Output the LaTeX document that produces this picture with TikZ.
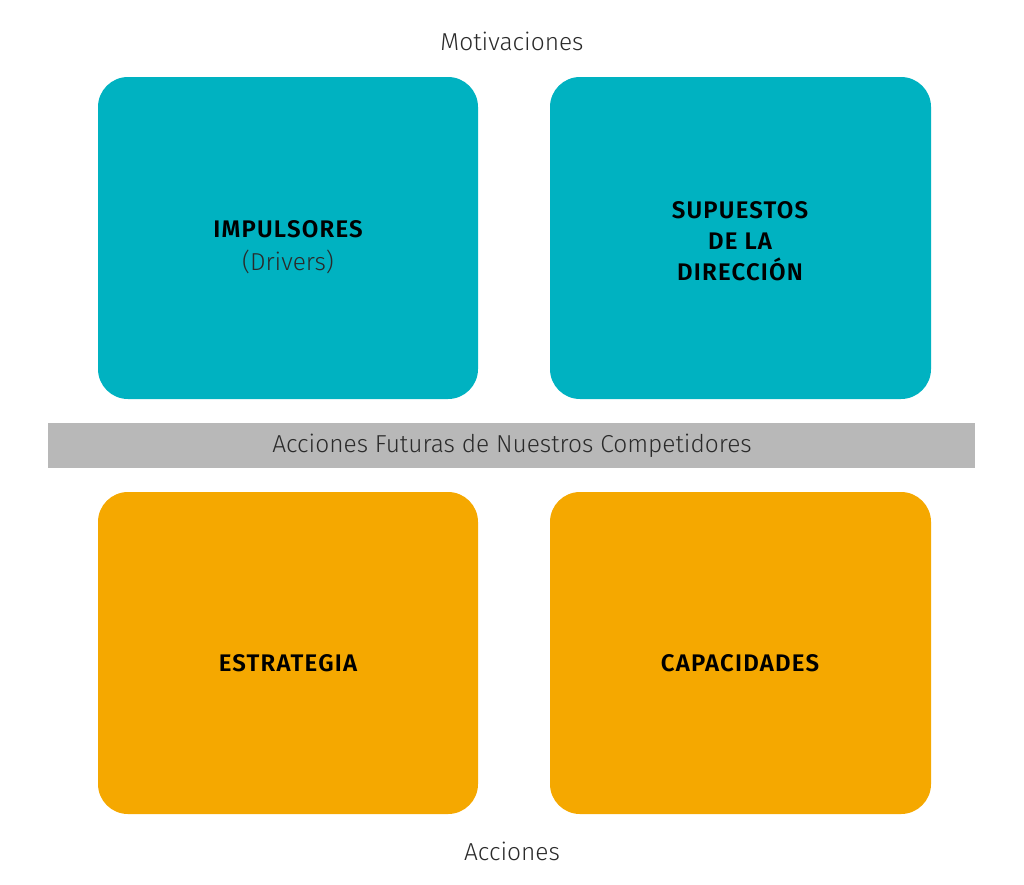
\documentclass[tikz,border=0pt]{standalone}
\usepackage{fontspec}
\setmainfont{Fira Sans}[UprightFont=* Light, BoldFont=* SemiBold, BoldFeatures={LetterSpace=5}]
\definecolor{cyanbox}{HTML}{00B2C1}
\definecolor{orangebox}{HTML}{F5A800}
\definecolor{graybar}{HTML}{B8B8B8}
\definecolor{txt}{HTML}{2A2A2A}
\begin{document}
\begin{tikzpicture}[x=1pt,y=-1pt,
  bold/.style={font=\fontsize{24}{31}\selectfont\bfseries, text=black, align=center},
  light/.style={font=\fontsize{24.5}{28}\selectfont, text=txt}]
\useasboundingbox (0,0) rectangle (1024,884);
\fill[cyanbox, rounded corners=30pt] (98,77) rectangle (478,399);
\fill[cyanbox, rounded corners=30pt] (550,77) rectangle (931,399);
\fill[orangebox, rounded corners=30pt] (98,492) rectangle (478,814);
\fill[orangebox, rounded corners=30pt] (550,492) rectangle (931,814);
\fill[graybar] (48,423) rectangle (975,468);
\node[light] (mot) at (512,41) {Motivaciones};
\node[light] (acc) at (512,851) {Acciones};
\node[light] (bar) at (512,446) {Acciones Futuras de Nuestros Competidores};
\node[bold] (imp) at (288,229) {IMPULSORES};
\node[light] (drv) at (288,262) {(Drivers)};
\node[bold] (sup) at (740,241) {SUPUESTOS\\DE LA\\DIRECCIÓN};
\node[bold] (est) at (288,663) {ESTRATEGIA};
\node[bold] (cap) at (740,663) {CAPACIDADES};
\end{tikzpicture}
\end{document}
